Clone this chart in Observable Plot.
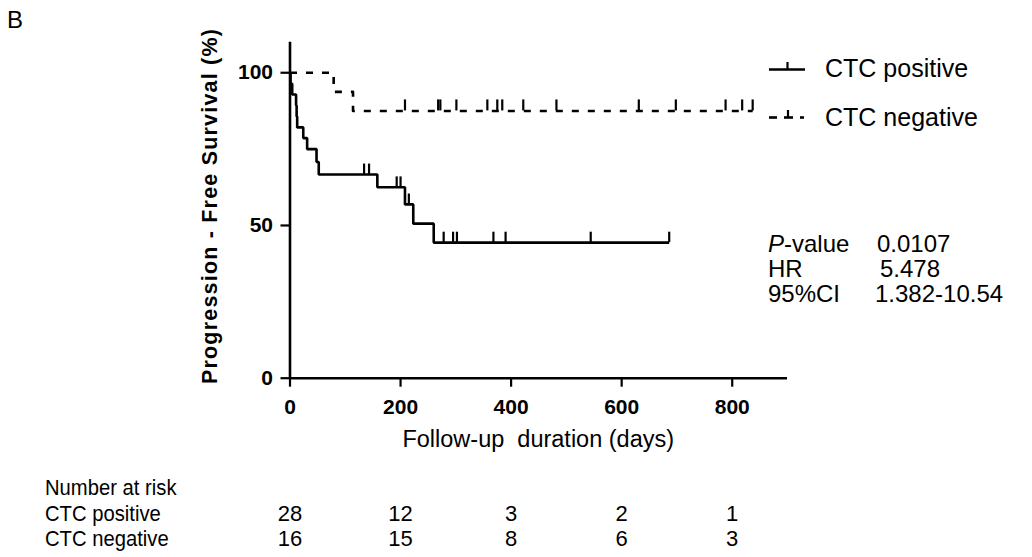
<!DOCTYPE html>
<html><head><meta charset="utf-8">
<script src="https://cdn.jsdelivr.net/npm/d3@7"></script>
<script src="https://cdn.jsdelivr.net/npm/@observablehq/plot@0.6"></script>
<style>html,body{margin:0;padding:0;background:#fff} svg{display:block}</style>
</head><body><div id="chart"></div>
<script>
// ---- data ----
const seriesNames = ["CTC positive", "CTC negative"];
// CTC positive: step times (days) and survival (%)
const posTimes = [0, 1, 4, 11, 12, 13, 24, 31, 48, 52, 158, 208, 223, 260];
const posSurv  = [100, 96.4, 92.9, 89.3, 85.7, 82.1, 78.6, 75.0, 70.8, 66.7, 62.5, 56.9, 50.6, 44.4];
const posEnd = 686;
const posCensor = [134, 143, 193, 200, 215, 278, 295, 302, 368, 390, 544, 686];
// CTC negative
const negTimes = [0, 79, 114];
const negSurv  = [100, 93.75, 87.5];
const negEnd = 837;
const negCensor = [208, 268, 272, 301, 357, 375, 384, 422, 482, 631, 698, 788, 818, 837];
// axes
const xTicks = [0, 200, 400, 600, 800];
const yTicks = [0, 50, 100];
// number at risk
const riskTimes = [0, 200, 400, 600, 800];
const riskPos = [28, 12, 3, 2, 1];
const riskNeg = [16, 15, 8, 6, 3];
// stats
const statLabels = ["P-value", "HR", "95%CI"];
const statValues = ["0.0107", "5.478", "1.382-10.54"];

// ---- build ----
const W = 1032, H = 557;
const ML = 289.5, MR = 245, MT = 41.7, MB = 179.3;
const font = "'Liberation Sans', Arial, Helvetica, sans-serif";
const narrow = "'Liberation Sans Narrow', 'Arial Narrow', 'Liberation Sans', sans-serif";
const SQ = 0.92; // horizontal squeeze for the condensed at-risk table text

const lookup = (times, surv, t) => surv[d3.bisectRight(times, t) - 1];
const posLine = posTimes.map((t, i) => ({t, s: posSurv[i]})).concat([{t: posEnd, s: posSurv[posSurv.length - 1]}]);
const negLine = negTimes.map((t, i) => ({t, s: negSurv[i]})).concat([{t: negEnd, s: negSurv[negSurv.length - 1]}]);
const posCens = posCensor.map(t => ({t, s: lookup(posTimes, posSurv, t)}));
const negCens = negCensor.map(t => ({t, s: lookup(negTimes, negSurv, t)}));
const riskRowPos = riskTimes.map((t, i) => ({t, n: riskPos[i]}));
const riskRowNeg = riskTimes.map((t, i) => ({t, n: riskNeg[i]}));

const riskStyle = {x: "t", frameAnchor: "bottom", text: "n", fontSize: 22, fontFamily: narrow, textAnchor: "middle", lineAnchor: "middle", ariaLabel: "risk"};

const chart = Plot.plot({
  width: W, height: H,
  marginLeft: ML, marginRight: MR, marginTop: MT, marginBottom: MB,
  style: {fontFamily: font, background: "#fff", color: "#000", overflow: "visible"},
  x: {domain: [0, 900]},
  y: {domain: [0, 110]},
  marks: [
    Plot.axisY({ticks: yTicks, tickSize: 9, tickPadding: 8, strokeWidth: 2.2, fontSize: 21, fontWeight: "bold", label: null}),
    Plot.axisX({ticks: xTicks, tickSize: 9, tickPadding: 12, strokeWidth: 2.2, fontSize: 21, fontWeight: "bold", label: null}),
    Plot.ruleX([0], {stroke: "#000", strokeWidth: 2.6}),
    Plot.ruleY([0], {stroke: "#000", strokeWidth: 2.6}),
    Plot.line(negLine, {x: "t", y: "s", curve: "step-after", stroke: "#000", strokeWidth: 2.6, strokeDasharray: "7,9", strokeLinecap: "butt"}),
    Plot.line(posLine, {x: "t", y: "s", curve: "step-after", stroke: "#000", strokeWidth: 2.6, strokeLinejoin: "miter", strokeLinecap: "butt"}),
    Plot.ruleX(negCens, {x: "t", y1: "s", y2: d => d.s + 3.6, stroke: "#000", strokeWidth: 2.2}),
    Plot.ruleX(posCens, {x: "t", y1: "s", y2: d => d.s + 3.4, stroke: "#000", strokeWidth: 2.2}),
    Plot.text(riskRowPos, {...riskStyle, dy: 513 - (H - MB)}),
    Plot.text(riskRowNeg, {...riskStyle, dy: 538 - (H - MB)})
  ]
});

document.getElementById("chart").appendChild(chart);

// condense the at-risk numbers (narrow font look)
d3.select(chart).selectAll('g[aria-label="risk"] text').each(function () {
  const tr = this.getAttribute("transform") || "";
  this.setAttribute("transform", tr + ` scale(${SQ},1)`);
});

const xs = chart.scale("x");
const svg = d3.select(chart);
const ann = svg.append("g").attr("font-family", font).attr("fill", "#000").attr("text-anchor", "start");

// panel letter
ann.append("text").attr("x", 7).attr("y", 28).attr("font-size", 24).text("B");
// y label
ann.append("text")
  .attr("transform", "translate(217,206) rotate(-90)")
  .attr("text-anchor", "middle").attr("font-weight", "bold").attr("font-size", 21.5)
  .attr("letter-spacing", 1.2)
  .text("Progression - Free Survival (%)");
// x label
ann.append("text")
  .attr("x", (xs.range[0] + xs.range[1]) / 2).attr("y", 447)
  .attr("text-anchor", "middle").attr("font-size", 23.5)
  .style("white-space", "pre")
  .text("Follow-up  duration (days)");

// legend
const leg = ann.append("g");
const seg = (x1, x2, y1, y2, w) => leg.append("line").attr("x1", x1).attr("x2", x2).attr("y1", y1).attr("y2", y2).attr("stroke", "#000").attr("stroke-width", w);
seg(769, 805, 69.5, 69.5, 2.6);
seg(787.5, 787.5, 62, 69.5, 2.2);
leg.append("text").attr("x", 825).attr("y", 77).attr("font-size", 25).text(seriesNames[0]);
seg(769, 777, 117.5, 117.5, 2.6);
seg(784, 793, 117.5, 117.5, 2.6);
seg(788, 788, 110, 117.5, 2.2);
seg(800, 804, 117.5, 117.5, 2.6);
leg.append("text").attr("x", 825).attr("y", 125.5).attr("font-size", 25).text(seriesNames[1]);

// stats
const statY = [252, 277, 302];
const statX = [877, 880, 875];
statLabels.forEach((lab, i) => {
  const t = ann.append("text").attr("x", 768).attr("y", statY[i]).attr("font-size", 24);
  if (lab.startsWith("P-")) {
    t.append("tspan").attr("font-style", "italic").text("P");
    t.append("tspan").text(lab.slice(1));
  } else t.text(lab);
  ann.append("text").attr("x", statX[i]).attr("y", statY[i]).attr("font-size", 24).text(statValues[i]);
});

// number at risk labels
const risk = ann.append("g").attr("font-family", narrow).attr("font-size", 22);
[["Number at risk", 495], [seriesNames[0], 521], [seriesNames[1], 546]].forEach(([s, y]) => {
  risk.append("text").attr("transform", `translate(45,${y}) scale(${SQ},1)`).text(s);
});
</script>
</body></html>
